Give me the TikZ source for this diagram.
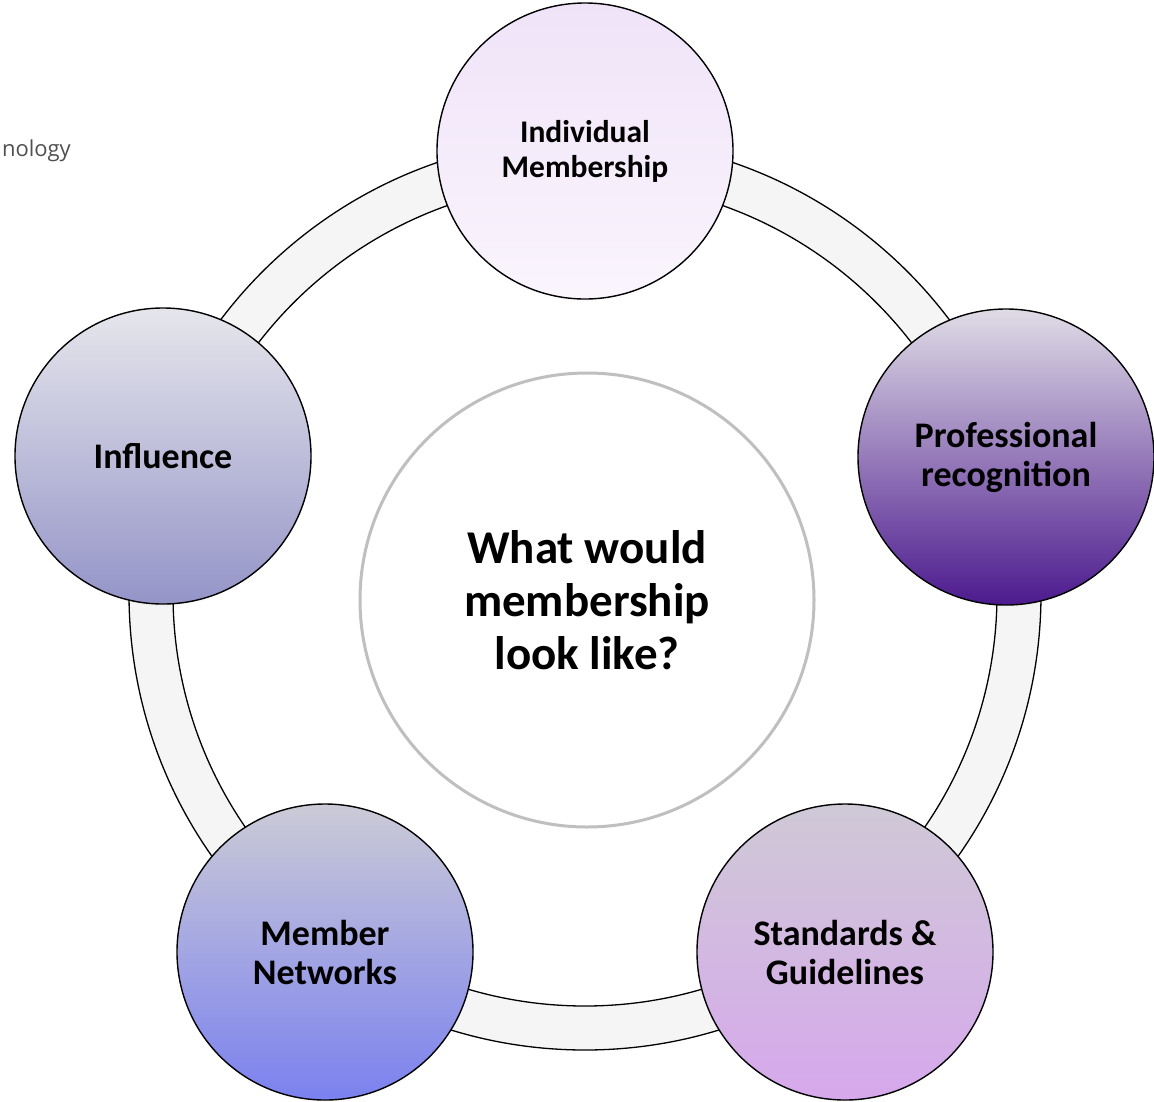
\documentclass[tikz,border=0pt]{standalone}
\usepackage{fontspec}
\setmainfont{Carlito}
\newfontfamily\logofont{Open Sans}
\usetikzlibrary{shadows}
\definecolor{ringfill}{HTML}{F5F5F5}
\definecolor{imTop}{HTML}{F0E3F8}
\definecolor{imBot}{HTML}{FAF5FD}
\definecolor{prTop}{HTML}{E0DCE6}
\definecolor{prMid}{HTML}{9A80C2}
\definecolor{prBot}{HTML}{4C1A8E}
\definecolor{inTop}{HTML}{E6E6EC}
\definecolor{inMid}{HTML}{BDBDD8}
\definecolor{inBot}{HTML}{9494C8}
\definecolor{mnTop}{HTML}{CBCBD6}
\definecolor{mnMid}{HTML}{A3A6E6}
\definecolor{mnBot}{HTML}{7B81EF}
\definecolor{sgTop}{HTML}{CFC9D6}
\definecolor{sgMid}{HTML}{D3A8EA}
\definecolor{sgBot}{HTML}{D6A8EC}
\definecolor{centerline}{HTML}{BFBFBF}
\definecolor{logogray}{HTML}{505050}
\tikzset{
  topic/.style={circle, draw=black, line width=1.4pt, minimum size=296pt, inner sep=0pt,
    align=center, text=black,
    circular drop shadow={shadow xshift=0pt, shadow yshift=-3pt, opacity=0.2, shadow scale=1.0},
    font=\bfseries\fontsize{36}{39}\selectfont},
  hub/.style={circle, draw=centerline, line width=3pt, fill=white, minimum size=454pt,
    inner sep=0pt, align=center, font=\bfseries\fontsize{47}{53}\selectfont},
  ring/.style={fill=ringfill, draw=black, line width=1.3pt, even odd rule}
}
\begin{document}
\begin{tikzpicture}[x=1pt,y=-1pt]
\useasboundingbox (0,0) rectangle (1154,1101);
\clip (0,0) rectangle (1154,1101);
% partial logo text
\node[anchor=base east, inner sep=0pt, font=\logofont\fontsize{22}{24}\selectfont, text=logogray] (logo) at (71,156) {nology};
% ring band
\coordinate (c) at (585,594);
\path[ring] (c) circle[radius=456pt] (c) circle[radius=412pt];
% centre
\node[hub] (hub) at (587,600) {What would\\membership\\look like?};
% topics
\node[topic, top color=imTop, bottom color=imBot, font=\bfseries\fontsize{31.5}{35}\selectfont] (im) at (585,151) {Individual\\Membership};
\node[topic, top color=prTop, middle color=prMid, bottom color=prBot] (pr) at (1006,457) {Professional\\recognition};
\node[topic, top color=inTop, middle color=inMid, bottom color=inBot] (in) at (163,456) {Influence};
\node[topic, top color=mnTop, middle color=mnMid, bottom color=mnBot] (mn) at (325,952) {Member\\Networks};
\node[topic, top color=sgTop, middle color=sgMid, bottom color=sgBot] (sg) at (845,952) {Standards \&\\Guidelines};
\end{tikzpicture}
\end{document}
